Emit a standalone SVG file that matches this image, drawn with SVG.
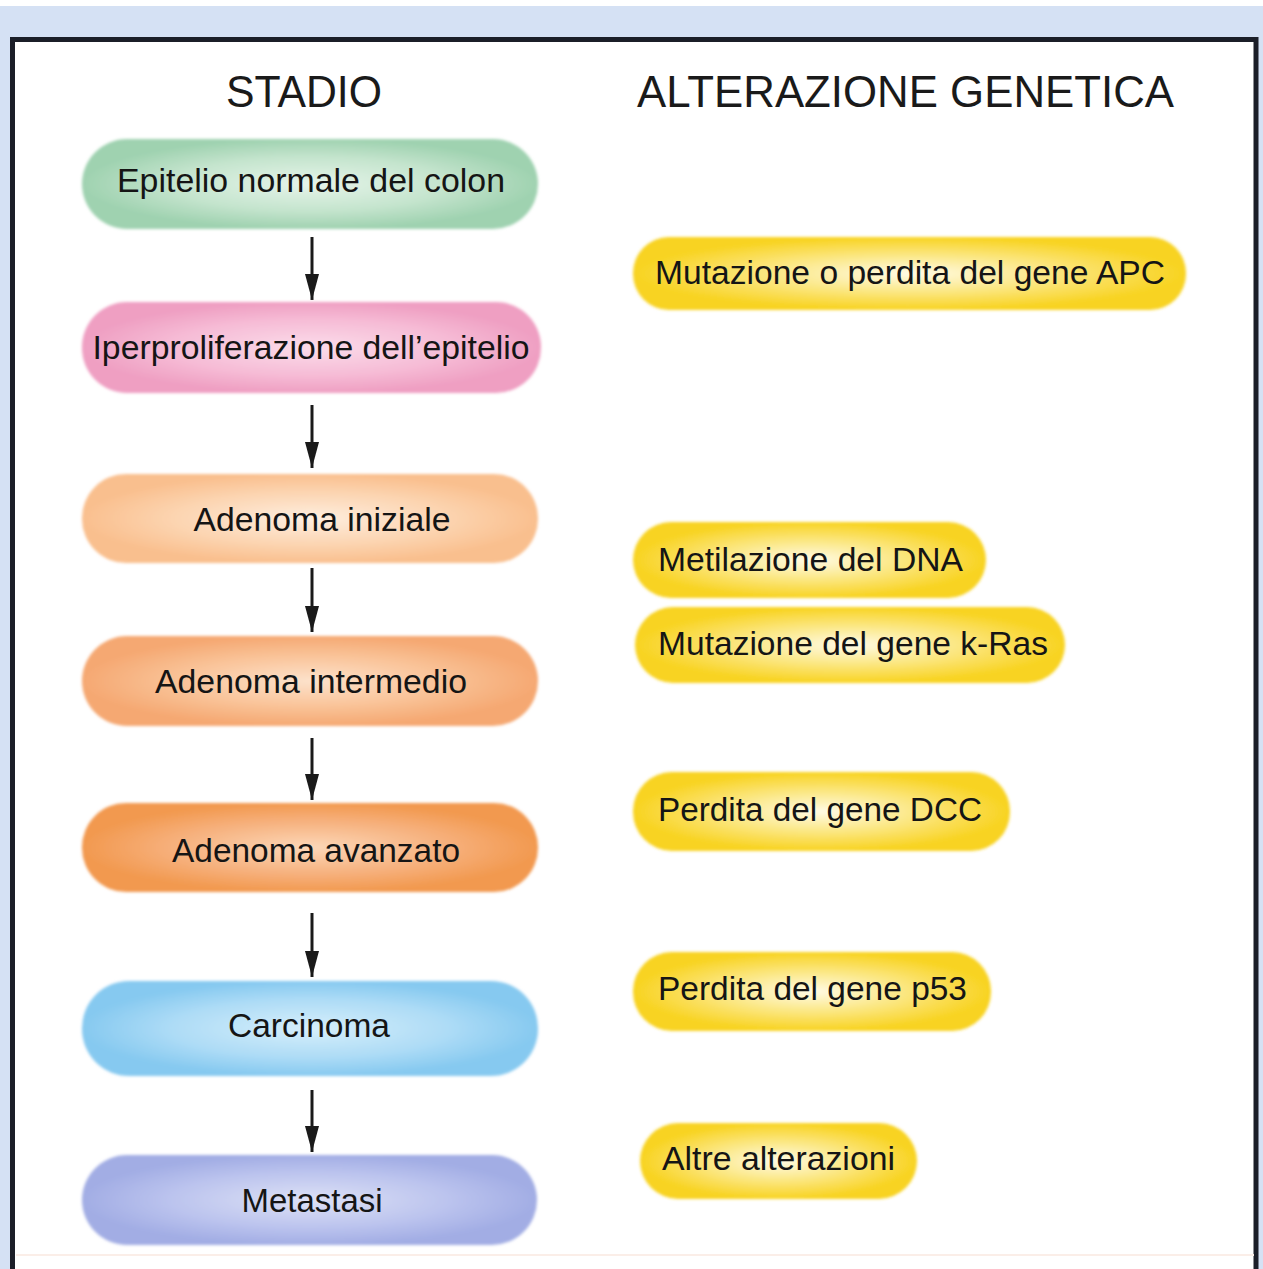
<svg xmlns="http://www.w3.org/2000/svg" width="1263" height="1269" viewBox="0 0 1263 1269">
<defs>
<style>
.t{font-family:"Liberation Sans",Arial,sans-serif;font-size:34px;fill:#151515;}
.h{font-family:"Liberation Sans",Arial,sans-serif;font-size:44px;fill:#1a1a1a;}
.arr{stroke:#1a1a1a;stroke-width:3;fill:none;}
</style>
<filter id="soft" x="-5%" y="-10%" width="110%" height="120%"><feGaussianBlur stdDeviation="1.6"/></filter>
<radialGradient id="gGreen" cx="0.5" cy="0.5" r="0.5"><stop offset="0" stop-color="#e6f4ea"/><stop offset="0.6" stop-color="#c4e4cd"/><stop offset="1" stop-color="#9fd2b0"/></radialGradient>
<radialGradient id="gPink" cx="0.5" cy="0.5" r="0.5"><stop offset="0" stop-color="#fbdcea"/><stop offset="0.6" stop-color="#f6bcd6"/><stop offset="1" stop-color="#ef9fc2"/></radialGradient>
<radialGradient id="gPeach" cx="0.5" cy="0.5" r="0.5"><stop offset="0" stop-color="#feeedf"/><stop offset="0.6" stop-color="#fcd4b0"/><stop offset="1" stop-color="#f9bf8e"/></radialGradient>
<radialGradient id="gOrange" cx="0.5" cy="0.5" r="0.5"><stop offset="0" stop-color="#fde2cb"/><stop offset="0.6" stop-color="#f9c195"/><stop offset="1" stop-color="#f5a872"/></radialGradient>
<radialGradient id="gDeep" cx="0.5" cy="0.5" r="0.5"><stop offset="0" stop-color="#fcd7b8"/><stop offset="0.6" stop-color="#f6b07c"/><stop offset="1" stop-color="#f2994f"/></radialGradient>
<radialGradient id="gBlue" cx="0.5" cy="0.5" r="0.5"><stop offset="0" stop-color="#d6eefb"/><stop offset="0.6" stop-color="#aedcf6"/><stop offset="1" stop-color="#86c9f0"/></radialGradient>
<radialGradient id="gLav" cx="0.5" cy="0.5" r="0.5"><stop offset="0" stop-color="#dde1f6"/><stop offset="0.6" stop-color="#bcc4ee"/><stop offset="1" stop-color="#a2ade4"/></radialGradient>
<radialGradient id="gYel" cx="0.5" cy="0.5" r="0.5"><stop offset="0" stop-color="#fffbe6"/><stop offset="0.55" stop-color="#fbe57a"/><stop offset="1" stop-color="#f8d320"/></radialGradient>
<marker id="ah" viewBox="0 0 26 14" refX="26" refY="7" markerWidth="26" markerHeight="14" markerUnits="userSpaceOnUse" orient="auto">
<path d="M0,0 L26,7 L0,14 Z" fill="#1a1a1a"/>
</marker>
</defs>

<!-- background and frame -->
<rect x="0" y="0" width="1263" height="1269" fill="#ffffff"/>
<rect x="0" y="6" width="1263" height="1263" fill="#d5e1f4"/>
<rect x="14" y="41" width="1242" height="1228" fill="#ffffff"/>
<path d="M12.5,1269 L12.5,39.5 L1256,39.5 L1256,1269" fill="none" stroke="#1b1e28" stroke-width="5"/>
<line x1="16" y1="1255" x2="1254" y2="1255" stroke="#fbeee8" stroke-width="2"/>

<!-- headers -->
<text class="h" x="304" y="107" text-anchor="middle" textLength="156" lengthAdjust="spacingAndGlyphs">STADIO</text>
<text class="h" x="637" y="107" textLength="537" lengthAdjust="spacingAndGlyphs">ALTERAZIONE GENETICA</text>

<!-- connectors -->
<g id="connectors">
<line class="arr" x1="312" y1="237" x2="312" y2="300" marker-end="url(#ah)"/>
<line class="arr" x1="312" y1="405" x2="312" y2="468" marker-end="url(#ah)"/>
<line class="arr" x1="312" y1="568" x2="312" y2="632" marker-end="url(#ah)"/>
<line class="arr" x1="312" y1="738" x2="312" y2="800" marker-end="url(#ah)"/>
<line class="arr" x1="312" y1="913" x2="312" y2="977" marker-end="url(#ah)"/>
<line class="arr" x1="312" y1="1090" x2="312" y2="1152" marker-end="url(#ah)"/>
</g>

<!-- stage nodes -->
<g id="n-epitelio">
<rect x="82" y="139" width="456" height="90" rx="45" fill="url(#gGreen)" filter="url(#soft)"/>
<text class="t" x="311" y="192" text-anchor="middle" textLength="388" lengthAdjust="spacingAndGlyphs">Epitelio normale del colon</text>
</g>
<g id="n-iperproliferazione">
<rect x="82" y="302" width="459" height="91" rx="45" fill="url(#gPink)" filter="url(#soft)"/>
<text class="t" x="311" y="359" text-anchor="middle" textLength="437" lengthAdjust="spacingAndGlyphs">Iperproliferazione dell’epitelio</text>
</g>
<g id="n-adenoma-iniziale">
<rect x="82" y="474" width="456" height="89" rx="44" fill="url(#gPeach)" filter="url(#soft)"/>
<text class="t" x="322" y="531" text-anchor="middle" textLength="257" lengthAdjust="spacingAndGlyphs">Adenoma iniziale</text>
</g>
<g id="n-adenoma-intermedio">
<rect x="82" y="636" width="456" height="90" rx="45" fill="url(#gOrange)" filter="url(#soft)"/>
<text class="t" x="311" y="693" text-anchor="middle" textLength="312" lengthAdjust="spacingAndGlyphs">Adenoma intermedio</text>
</g>
<g id="n-adenoma-avanzato">
<rect x="82" y="803" width="456" height="89" rx="44" fill="url(#gDeep)" filter="url(#soft)"/>
<text class="t" x="316" y="862" text-anchor="middle" textLength="288" lengthAdjust="spacingAndGlyphs">Adenoma avanzato</text>
</g>
<g id="n-carcinoma">
<rect x="82" y="981" width="456" height="95" rx="47" fill="url(#gBlue)" filter="url(#soft)"/>
<text class="t" x="309" y="1037" text-anchor="middle" textLength="162" lengthAdjust="spacingAndGlyphs">Carcinoma</text>
</g>
<g id="n-metastasi">
<rect x="82" y="1155" width="455" height="90" rx="45" fill="url(#gLav)" filter="url(#soft)"/>
<text class="t" x="312" y="1212" text-anchor="middle" textLength="141" lengthAdjust="spacingAndGlyphs">Metastasi</text>
</g>

<!-- genetic alteration nodes -->
<g id="g-apc">
<rect x="633" y="237" width="553" height="73" rx="36" fill="url(#gYel)" filter="url(#soft)"/>
<text class="t" x="655" y="284" textLength="510" lengthAdjust="spacingAndGlyphs">Mutazione o perdita del gene APC</text>
</g>
<g id="g-metilazione">
<rect x="633" y="522" width="353" height="76" rx="38" fill="url(#gYel)" filter="url(#soft)"/>
<text class="t" x="658" y="571" textLength="305" lengthAdjust="spacingAndGlyphs">Metilazione del DNA</text>
</g>
<g id="g-kras">
<rect x="635" y="607" width="430" height="76" rx="38" fill="url(#gYel)" filter="url(#soft)"/>
<text class="t" x="658" y="655" textLength="390" lengthAdjust="spacingAndGlyphs">Mutazione del gene k-Ras</text>
</g>
<g id="g-dcc">
<rect x="633" y="772" width="377" height="79" rx="39" fill="url(#gYel)" filter="url(#soft)"/>
<text class="t" x="658" y="821" textLength="324" lengthAdjust="spacingAndGlyphs">Perdita del gene DCC</text>
</g>
<g id="g-p53">
<rect x="633" y="952" width="358" height="79" rx="39" fill="url(#gYel)" filter="url(#soft)"/>
<text class="t" x="658" y="1000" textLength="309" lengthAdjust="spacingAndGlyphs">Perdita del gene p53</text>
</g>
<g id="g-altre">
<rect x="640" y="1123" width="277" height="76" rx="38" fill="url(#gYel)" filter="url(#soft)"/>
<text class="t" x="662" y="1170" textLength="233" lengthAdjust="spacingAndGlyphs">Altre alterazioni</text>
</g>
</svg>
